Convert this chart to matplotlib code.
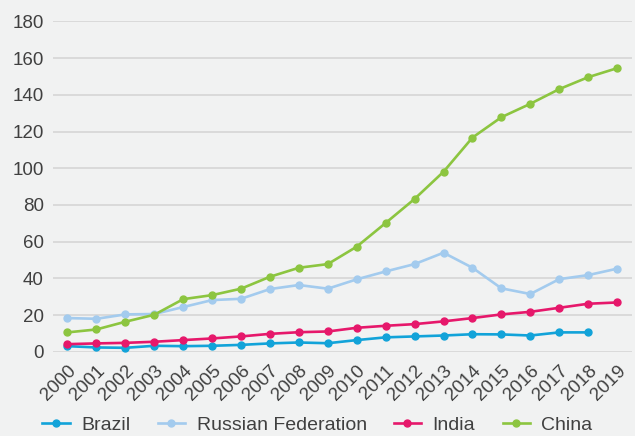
import matplotlib.pyplot as plt

years = list(range(2000, 2020))
brazil = [3.1, 2.4, 2.2, 3.3, 3.1, 3.3, 3.8, 4.6, 5.1, 4.7,
          6.4, 7.9, 8.4, 8.9, 9.6, 9.5, 8.9, 10.6, 10.6]
russia = [18.4, 18.0, 20.4, 20.6, 24.4, 28.2, 28.9, 34.2, 36.4, 34.4,
          39.5, 43.8, 47.8, 54.0, 45.8, 34.6, 31.5, 39.6, 41.8, 45.3]
india = [4.2, 4.6, 4.9, 5.5, 6.4, 7.3, 8.4, 9.8, 10.7, 11.1,
         13.1, 14.2, 15.1, 16.6, 18.4, 20.4, 21.8, 24.0, 26.2, 26.9]
china = [10.6, 12.2, 16.4, 20.2, 28.7, 30.9, 34.4, 40.9, 45.8, 47.8,
         57.3, 70.2, 83.3, 98.1, 116.7, 127.8, 135.1, 143.1, 149.6, 154.5]

series = [
    ("Brazil", brazil, "#12a3d9"),
    ("Russian Federation", russia, "#a3cbee"),
    ("India", india, "#e6186b"),
    ("China", china, "#8cc540"),
]

plt.rcParams['font.family'] = ['Liberation Sans', 'DejaVu Sans']
bg = "#f1f2f2"
txt = "#404040"

fig = plt.figure(figsize=(6.35, 4.36), dpi=100, facecolor=bg)
ax = fig.add_axes([0.0835, 0.193, 0.912, 0.758], facecolor=bg)

for name, vals, col in series:
    ax.plot(years[:len(vals)], vals, color=col, lw=1.9, marker='o',
            markersize=5, label=name, zorder=3)

ax.set_xlim(1999.5, 2019.52)
ax.set_ylim(0, 180)
ax.set_yticks(range(0, 181, 20))
ax.set_xticks(years)
ax.set_xticklabels([str(y) for y in years], rotation=45, ha='right',
                   rotation_mode='anchor')
ax.grid(axis='y', color='#d6d6d6', lw=1.2)
ax.set_axisbelow(True)
for s in ax.spines.values():
    s.set_visible(False)
ax.tick_params(length=0, labelsize=13.5, colors=txt)
ax.tick_params(axis='y', pad=6.5)
ax.tick_params(axis='x', pad=7.5)

fig.legend(loc='lower center', bbox_to_anchor=(0.5, -0.035), ncol=4,
           frameon=False, fontsize=14, labelcolor=txt, handlelength=1.4,
           columnspacing=1.4, handletextpad=0.6)

fig.savefig("out.png", dpi=100, facecolor=bg)
